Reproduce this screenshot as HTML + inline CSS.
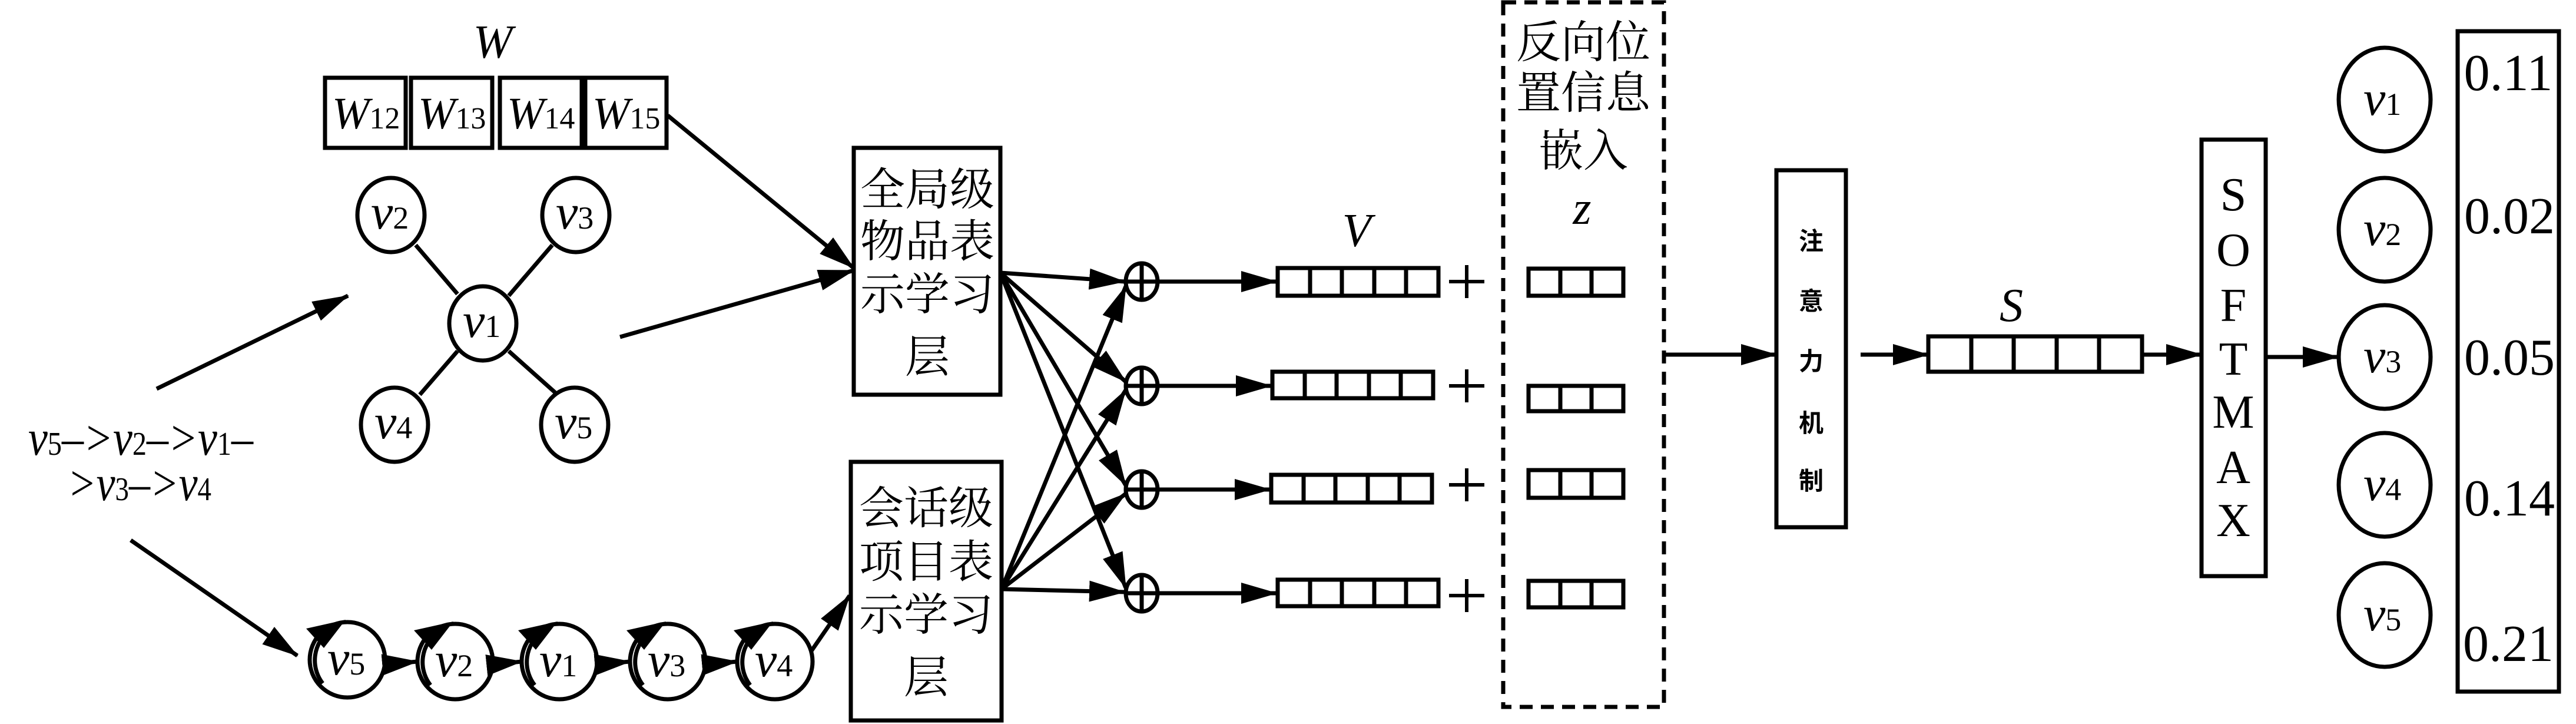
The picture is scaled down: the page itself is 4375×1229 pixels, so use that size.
<!DOCTYPE html>
<html><head><meta charset="utf-8"><style>
html,body{margin:0;padding:0;background:#fff;}
svg{display:block;}
</style></head><body>
<svg width="4375" height="1229" viewBox="0 0 4375 1229" xmlns="http://www.w3.org/2000/svg">
<defs>
<marker id="a" markerUnits="userSpaceOnUse" markerWidth="70" markerHeight="40" refX="60" refY="20" orient="auto">
<path d="M0,2 L62,20 L0,38 Z" fill="#000"/>
</marker>
</defs>
<g stroke="#000" stroke-width="7" fill="none">
<rect x="552" y="132" width="137" height="119"/>
<rect x="698" y="132" width="138" height="119"/>
<rect x="849" y="132" width="139" height="119"/>
<rect x="994" y="132" width="138" height="119"/>
<line x1="706" y1="416" x2="777" y2="499"/>
<line x1="938" y1="416" x2="864" y2="502"/>
<line x1="713" y1="670" x2="777" y2="596"/>
<line x1="947" y1="670" x2="864" y2="596"/>
<ellipse cx="664" cy="365" rx="57" ry="63"/>
<ellipse cx="978" cy="365" rx="57" ry="63"/>
<ellipse cx="820" cy="549" rx="57" ry="63"/>
<ellipse cx="670" cy="721" rx="57" ry="63"/>
<ellipse cx="976" cy="721" rx="57" ry="63"/>
<line x1="266" y1="660" x2="591" y2="502" marker-end="url(#a)"/>
<line x1="1053" y1="572" x2="1450" y2="459" marker-end="url(#a)"/>
<line x1="1134" y1="196" x2="1450" y2="455" marker-end="url(#a)"/>
<line x1="222" y1="917" x2="505" y2="1113" marker-end="url(#a)"/>
<ellipse cx="590" cy="1120" rx="64" ry="64"/><path d="M548,1160 A64,64 0 0 1 560,1070"/>
<ellipse cx="773" cy="1123" rx="64" ry="64"/><path d="M731,1163 A64,64 0 0 1 743,1073"/>
<ellipse cx="950" cy="1123" rx="64" ry="64"/><path d="M908,1163 A64,64 0 0 1 920,1073"/>
<ellipse cx="1134" cy="1123" rx="64" ry="64"/><path d="M1092,1163 A64,64 0 0 1 1104,1073"/>
<ellipse cx="1316" cy="1123" rx="64" ry="64"/><path d="M1274,1163 A64,64 0 0 1 1286,1073"/>
<line x1="654" y1="1128" x2="709" y2="1123" marker-end="url(#a)"/>
<line x1="837" y1="1128" x2="886" y2="1123" marker-end="url(#a)"/>
<line x1="1014" y1="1128" x2="1070" y2="1123" marker-end="url(#a)"/>
<line x1="1198" y1="1128" x2="1252" y2="1123" marker-end="url(#a)"/>
<line x1="1378" y1="1105" x2="1443" y2="1011" marker-end="url(#a)"/>
<rect x="1450" y="251" width="249" height="419"/>
<rect x="1445" y="784" width="256" height="439"/>
<line x1="1699" y1="463" x2="1910" y2="478" marker-end="url(#a)"/>
<line x1="1699" y1="463" x2="1912" y2="648" marker-end="url(#a)"/>
<line x1="1699" y1="463" x2="1912" y2="824" marker-end="url(#a)"/>
<line x1="1699" y1="463" x2="1912" y2="998" marker-end="url(#a)"/>
<line x1="1701" y1="1000" x2="1912" y2="486" marker-end="url(#a)"/>
<line x1="1701" y1="1000" x2="1912" y2="662" marker-end="url(#a)"/>
<line x1="1701" y1="1000" x2="1912" y2="838" marker-end="url(#a)"/>
<line x1="1701" y1="1000" x2="1910" y2="1005" marker-end="url(#a)"/>
<ellipse cx="1939" cy="478" rx="27" ry="31"/><line x1="1912" y1="478" x2="1966" y2="478"/><line x1="1939" y1="447" x2="1939" y2="509"/>
<ellipse cx="1939" cy="655" rx="27" ry="31"/><line x1="1912" y1="655" x2="1966" y2="655"/><line x1="1939" y1="624" x2="1939" y2="686"/>
<ellipse cx="1939" cy="831" rx="27" ry="31"/><line x1="1912" y1="831" x2="1966" y2="831"/><line x1="1939" y1="800" x2="1939" y2="862"/>
<ellipse cx="1939" cy="1007" rx="27" ry="31"/><line x1="1912" y1="1007" x2="1966" y2="1007"/><line x1="1939" y1="976" x2="1939" y2="1038"/>
<line x1="1966" y1="478" x2="2168" y2="478" marker-end="url(#a)"/>
<line x1="1966" y1="655" x2="2159" y2="655" marker-end="url(#a)"/>
<line x1="1966" y1="831" x2="2157" y2="831" marker-end="url(#a)"/>
<line x1="1966" y1="1007" x2="2168" y2="1007" marker-end="url(#a)"/>
<rect x="2170" y="455" width="273" height="47"/><line x1="2225" y1="455" x2="2225" y2="502"/><line x1="2279" y1="455" x2="2279" y2="502"/><line x1="2334" y1="455" x2="2334" y2="502"/><line x1="2388" y1="455" x2="2388" y2="502"/>
<rect x="2161" y="631" width="273" height="45"/><line x1="2216" y1="631" x2="2216" y2="676"/><line x1="2270" y1="631" x2="2270" y2="676"/><line x1="2325" y1="631" x2="2325" y2="676"/><line x1="2379" y1="631" x2="2379" y2="676"/>
<rect x="2159" y="806" width="273" height="47"/><line x1="2214" y1="806" x2="2214" y2="853"/><line x1="2268" y1="806" x2="2268" y2="853"/><line x1="2323" y1="806" x2="2323" y2="853"/><line x1="2377" y1="806" x2="2377" y2="853"/>
<rect x="2170" y="984" width="273" height="45"/><line x1="2225" y1="984" x2="2225" y2="1029"/><line x1="2279" y1="984" x2="2279" y2="1029"/><line x1="2334" y1="984" x2="2334" y2="1029"/><line x1="2388" y1="984" x2="2388" y2="1029"/>
<g stroke-width="6">
<line x1="2461" y1="478" x2="2521" y2="478"/><line x1="2491" y1="450" x2="2491" y2="506"/>
<line x1="2461" y1="655" x2="2521" y2="655"/><line x1="2491" y1="627" x2="2491" y2="683"/>
<line x1="2461" y1="823" x2="2521" y2="823"/><line x1="2491" y1="795" x2="2491" y2="851"/>
<line x1="2461" y1="1011" x2="2521" y2="1011"/><line x1="2491" y1="983" x2="2491" y2="1039"/>
</g>
<rect x="2596" y="456" width="161" height="46"/><line x1="2650" y1="456" x2="2650" y2="502"/><line x1="2703" y1="456" x2="2703" y2="502"/>
<rect x="2596" y="655" width="161" height="43"/><line x1="2650" y1="655" x2="2650" y2="698"/><line x1="2703" y1="655" x2="2703" y2="698"/>
<rect x="2596" y="798" width="161" height="47"/><line x1="2650" y1="798" x2="2650" y2="845"/><line x1="2703" y1="798" x2="2703" y2="845"/>
<rect x="2596" y="986" width="161" height="45"/><line x1="2650" y1="986" x2="2650" y2="1031"/><line x1="2703" y1="986" x2="2703" y2="1031"/>
<rect x="2553" y="4" width="273" height="1196" stroke-dasharray="22,14"/>
<line x1="2826" y1="602" x2="3017" y2="602" marker-end="url(#a)"/>
<rect x="3017" y="289" width="118" height="606"/>
<line x1="3160" y1="602" x2="3275" y2="602" marker-end="url(#a)"/>
<rect x="3275" y="571" width="363" height="60"/><line x1="3348" y1="571" x2="3348" y2="631"/><line x1="3420" y1="571" x2="3420" y2="631"/><line x1="3493" y1="571" x2="3493" y2="631"/><line x1="3565" y1="571" x2="3565" y2="631"/>
<line x1="3638" y1="602" x2="3739" y2="602" marker-end="url(#a)"/>
<rect x="3739" y="237" width="109" height="741"/>
<line x1="3848" y1="606" x2="3971" y2="606" marker-end="url(#a)"/>
<ellipse cx="4050" cy="169" rx="78" ry="88"/>
<ellipse cx="4050" cy="390" rx="78" ry="88"/>
<ellipse cx="4050" cy="606" rx="78" ry="88"/>
<ellipse cx="4050" cy="823" rx="78" ry="88"/>
<ellipse cx="4050" cy="1044" rx="78" ry="88"/>
<rect x="4174" y="53" width="172" height="1121"/>
</g>
<g fill="#000">
<path d="M520,1067 L587,1052 L550,1100 Z"/>
<path d="M703,1070 L770,1055 L733,1103 Z"/>
<path d="M880,1070 L947,1055 L910,1103 Z"/>
<path d="M1064,1070 L1131,1055 L1094,1103 Z"/>
<path d="M1246,1070 L1313,1055 L1276,1103 Z"/>
</g>
<g font-family="Liberation Serif, serif" font-style="italic" font-size="80" text-anchor="middle">
<text x="837" y="98">W</text>
<text x="2304" y="418">V</text>
<text x="2687" y="380">z</text>
<text x="3416" y="545">S</text>
</g>
<g font-family="Liberation Serif, serif" font-style="italic" font-size="76">
<text x="564" y="218">W<tspan font-style="normal" font-size="52">12</tspan></text>
<text x="710" y="218">W<tspan font-style="normal" font-size="52">13</tspan></text>
<text x="861" y="218">W<tspan font-style="normal" font-size="52">14</tspan></text>
<text x="1006" y="218">W<tspan font-style="normal" font-size="52">15</tspan></text>
</g>
<g font-family="Liberation Serif, serif" font-style="italic" font-size="84">
<text x="630" y="388">v<tspan font-style="normal" font-size="54">2</tspan></text>
<text x="944" y="388">v<tspan font-style="normal" font-size="54">3</tspan></text>
<text x="786" y="572">v<tspan font-style="normal" font-size="54">1</tspan></text>
<text x="636" y="744">v<tspan font-style="normal" font-size="54">4</tspan></text>
<text x="942" y="744">v<tspan font-style="normal" font-size="54">5</tspan></text>
<text x="556" y="1145">v<tspan font-style="normal" font-size="54">5</tspan></text>
<text x="739" y="1148">v<tspan font-style="normal" font-size="54">2</tspan></text>
<text x="916" y="1148">v<tspan font-style="normal" font-size="54">1</tspan></text>
<text x="1100" y="1148">v<tspan font-style="normal" font-size="54">3</tspan></text>
<text x="1282" y="1148">v<tspan font-style="normal" font-size="54">4</tspan></text>
<text x="4014" y="195">v<tspan font-style="normal" font-size="54">1</tspan></text>
<text x="4014" y="416">v<tspan font-style="normal" font-size="54">2</tspan></text>
<text x="4014" y="632">v<tspan font-style="normal" font-size="54">3</tspan></text>
<text x="4014" y="849">v<tspan font-style="normal" font-size="54">4</tspan></text>
<text x="4014" y="1070">v<tspan font-style="normal" font-size="54">5</tspan></text>
</g>
<g font-family="Liberation Serif, serif" font-style="italic" font-size="86">
<text x="48" y="772" textLength="382" lengthAdjust="spacingAndGlyphs">v<tspan font-style="normal" font-size="56">5</tspan>–&gt;v<tspan font-style="normal" font-size="56">2</tspan>–&gt;v<tspan font-style="normal" font-size="56">1</tspan>–</text>
<text x="115" y="849" textLength="244" lengthAdjust="spacingAndGlyphs">&gt;v<tspan font-style="normal" font-size="56">3</tspan>–&gt;v<tspan font-style="normal" font-size="56">4</tspan></text>
</g>
<g font-family="Noto Serif CJK SC, Noto Sans CJK SC, serif" font-size="76" text-anchor="middle">
<text x="1575" y="348">全局级</text>
<text x="1575" y="436">物品表</text>
<text x="1575" y="526">示学习</text>
<text x="1575" y="632">层</text>
<text x="1573" y="889">会话级</text>
<text x="1573" y="980">项目表</text>
<text x="1573" y="1070">示学习</text>
<text x="1573" y="1176">层</text>
<text x="2689" y="98">反向位</text>
<text x="2689" y="184">置信息</text>
<text x="2689" y="282">嵌入</text>
</g>
<g font-family="Noto Sans CJK SC, sans-serif" font-size="42" font-weight="bold" text-anchor="middle">
<text x="3076" y="424">注</text>
<text x="3076" y="526">意</text>
<text x="3076" y="628">力</text>
<text x="3076" y="733">机</text>
<text x="3076" y="831">制</text>
</g>
<g font-family="Liberation Serif, serif" font-size="80" text-anchor="middle">
<text x="3793" y="357">S</text>
<text x="3793" y="451">O</text>
<text x="3793" y="545">F</text>
<text x="3793" y="636">T</text>
<text x="3793" y="726">M</text>
<text x="3793" y="820">A</text>
<text x="3793" y="910">X</text>
</g>
<g font-family="Liberation Serif, serif" font-size="88" text-anchor="middle">
<text x="4260" y="153">0.11</text>
<text x="4262" y="396">0.02</text>
<text x="4262" y="636">0.05</text>
<text x="4262" y="875">0.14</text>
<text x="4260" y="1122">0.21</text>
</g>
</svg>
</body></html>
